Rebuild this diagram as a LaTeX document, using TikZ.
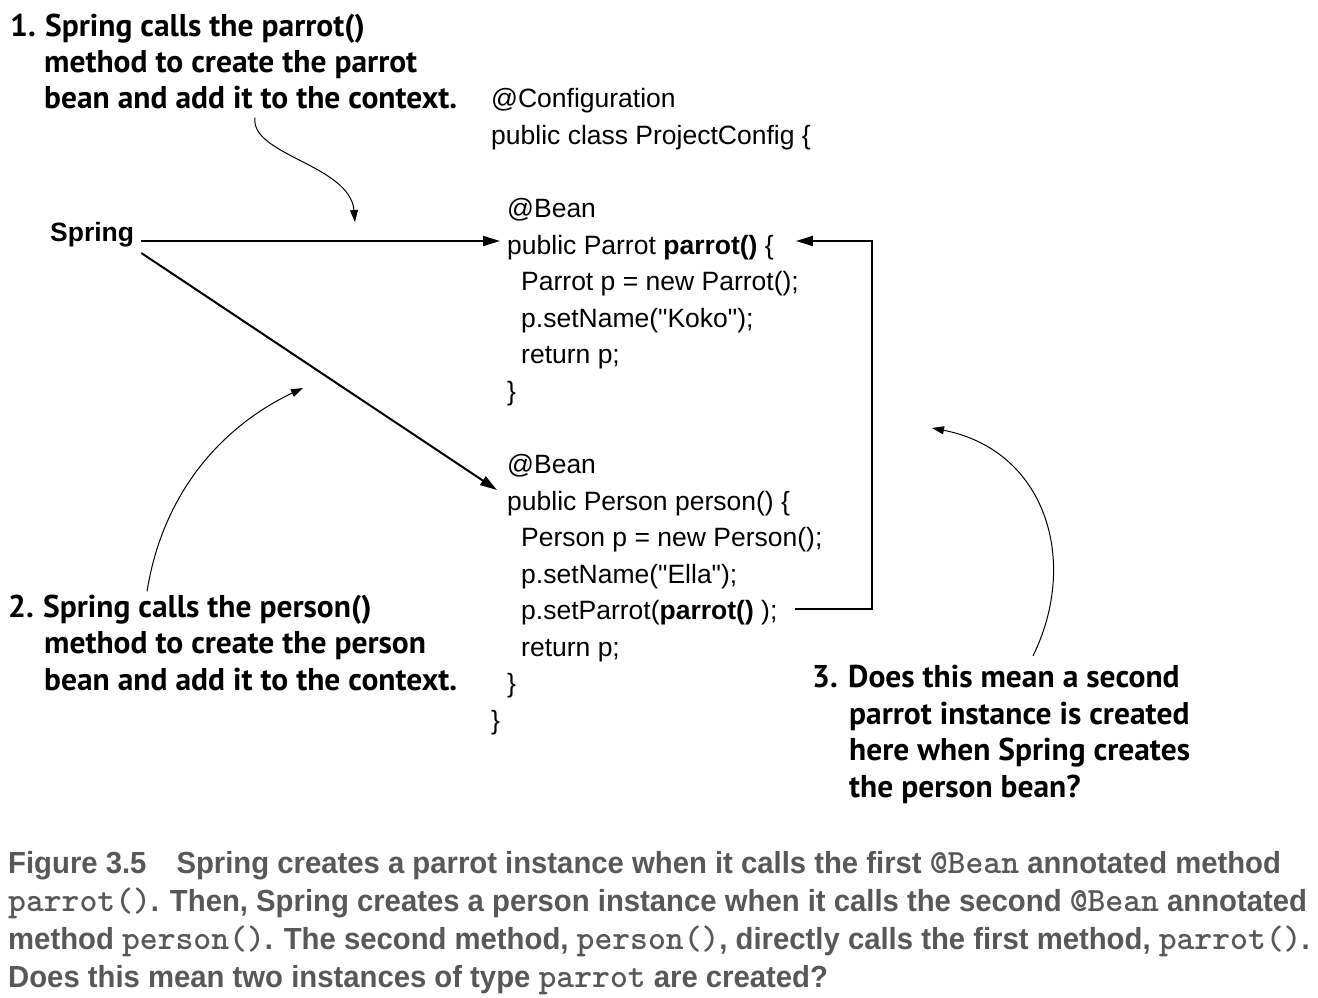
\documentclass[tikz,border=0pt]{standalone}
\usepackage{fontspec}
\setmainfont{Liberation Sans}
\newfontfamily\codefont{Liberation Sans}
\newfontfamily\notefont{PT Sans}
\newfontfamily\capfont[FakeStretch=0.96]{Liberation Sans}
\usetikzlibrary{arrows.meta}
\definecolor{capgray}{RGB}{88,88,88}

\newcommand\capcode[1]{{\ttfamily\fontsize{34}{38}\selectfont #1}}

\tikzset{
    code/.style={anchor=base west, inner sep=0pt,
        font=\codefont\fontsize{26.5}{32}\selectfont},
    note/.style={anchor=base west, inner sep=0pt, align=left,
        font=\notefont\bfseries\fontsize{31.5}{36.5}\selectfont},
    conn/.style={line width=2pt, -{Triangle[length=17pt,width=10pt]}},
    remark/.style={line width=1pt, -{Triangle[length=12pt,width=8pt]}}
}

\begin{document}
\begin{tikzpicture}[x=1pt, y=-1pt]
    \useasboundingbox (0,0) rectangle (1318,998);
    % annotations (base = last line)
    \node[note] (note1) at (10,109) {\makebox[35pt][l]{1.}Spring calls the parrot()\\
        \hspace*{34pt}method to create the parrot\\
        \hspace*{34pt}bean and add it to the context.};
    \node[note] (note2) at (8,690) {\makebox[35pt][l]{2.}Spring calls the person()\\
        \hspace*{36pt}method to create the person\\
        \hspace*{36pt}bean and add it to the context.};
    \node[note] (note3) at (812,797) {\makebox[36pt][l]{3.}Does this mean a second\\
        \hspace*{37pt}parrot instance is created\\
        \hspace*{37pt}here when Spring creates\\
        \hspace*{37pt}the person bean?};
    \node[code, font=\codefont\bfseries\fontsize{26.5}{32}\selectfont] (spring) at (50,241) {Spring};
    % the configuration class
    \node[code] (cfg) at (491,107) {@Configuration};
    \node[code] (cls) at (491,144) {public class ProjectConfig \{};
    \node[code] (bean1) at (507,217) {@Bean};
    \node[code] (parrotm) at (507,254) {public Parrot \textbf{parrot()} \{};
    \node[code] (newp) at (521,290) {Parrot p = new Parrot();};
    \node[code] (setn1) at (521,327) {p.setName("Koko");};
    \node[code] (ret1) at (521,363) {return p;};
    \node[code] (end1) at (507,400) {\}};
    \node[code] (bean2) at (507,473) {@Bean};
    \node[code] (personm) at (507,510) {public Person person() \{};
    \node[code] (newq) at (521,546) {Person p = new Person();};
    \node[code] (setn2) at (521,583) {p.setName("Ella");};
    \node[code] (setp) at (521,619) {p.setParrot(\textbf{parrot()} );};
    \node[code] (ret2) at (521,656) {return p;};
    \node[code] (end2) at (507,692) {\}};
    \node[code] (end3) at (491,729) {\}};
    % connectors
    \draw[conn] ([xshift=7pt]spring.base east) -- ([shift={(-7pt,13pt)}]parrotm.base west);
    \draw[conn] ([shift={(7pt,-12pt)}]spring.base east) -- ([shift={(-10pt,20pt)}]personm.base west);
    \draw[conn] ([shift={(17pt,10pt)}]setp.base east) -- ++(77,0)
        |- ([shift={(22pt,13pt)}]parrotm.base east);
    % remarks pointing at the arrows
    \coordinate (hit1) at (355,222);
    \coordinate (hit2) at (303,388);
    \coordinate (hit3) at (932,428);
    \draw[remark] ([shift={(245pt,-8pt)}]note1.south west) .. controls (250,155) and (350,165) .. (hit1);
    \draw[remark] ([shift={(139pt,3pt)}]note2.north west) .. controls (165,480) and (235,420) .. (hit2);
    \draw[remark] ([shift={(221pt,9pt)}]note3.north west) .. controls (1080,560) and (1045,450) .. (hit3);
    % caption
    \node[anchor=base west, inner sep=0pt, align=left, text=capgray,
        font=\capfont\bfseries\fontsize{30.5}{37.8}\selectfont] (caption) at (8,987)
        {Figure 3.5\hspace{30pt}Spring creates a parrot instance when it calls the first \capcode{@Bean} annotated method\\
        \capcode{parrot()}. Then, Spring creates a person instance when it calls the second \capcode{@Bean} annotated\\
        method \capcode{person()}. The second method, \capcode{person()}, directly calls the first method, \capcode{parrot()}.\\
        Does this mean two instances of type \capcode{parrot} are created?};
\end{tikzpicture}
\end{document}
